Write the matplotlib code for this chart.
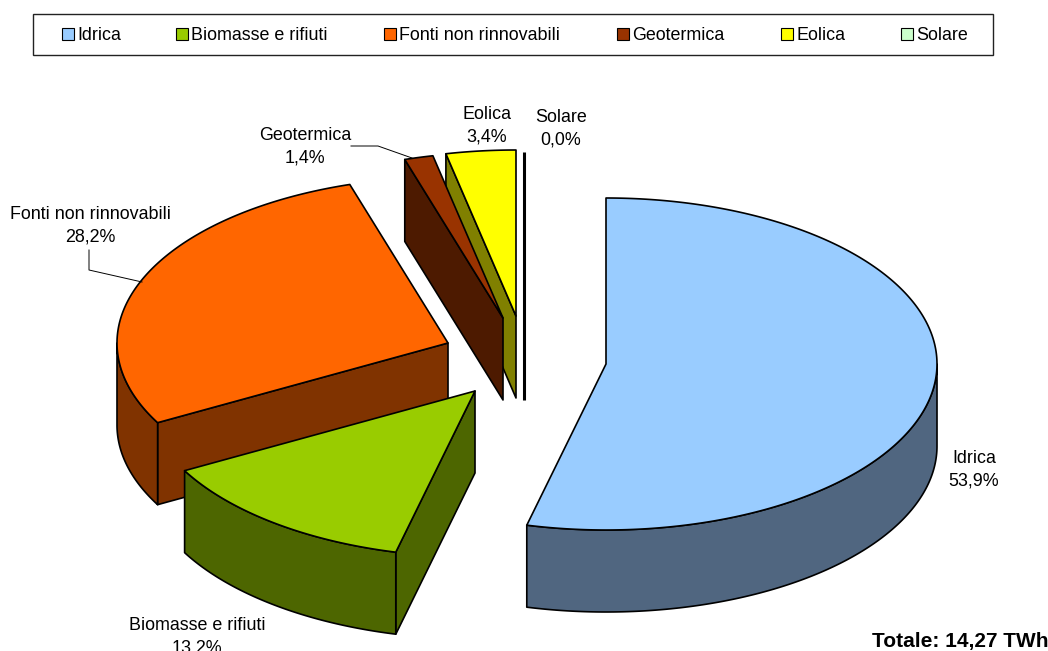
import numpy as np
import matplotlib
matplotlib.use("Agg")
import matplotlib.pyplot as plt
from matplotlib.patches import Rectangle

plt.rcParams["font.family"] = ["Liberation Sans", "DejaVu Sans"]

names = ["Idrica", "Biomasse e rifiuti", "Fonti non rinnovabili", "Geotermica", "Eolica", "Solare"]
shares = [53.9, 13.2, 28.2, 1.4, 3.4, 0.0]
total_label = "Totale: 14,27 TWh"

top_colors = ["#99CCFF", "#99CC00", "#FF6600", "#993300", "#FFFF00", "#CCFFCC"]
side_colors = ["#506680", "#4D6600", "#803300", "#4D1A00", "#808000", "#526652"]

# pie geometry, in pixels of the reference
RX, RY, DEPTH = 331, 166, 82
apex = {
    "Idrica": (606, 364),
    "Biomasse e rifiuti": (475, 391),
    "Fonti non rinnovabili": (448, 343),
    "Geotermica": (503, 318),
    "Eolica": (516, 316),
    "Solare": (524, 318),
}
# label centres and leader lines
label_pos = {
    "Idrica": (974, 470),
    "Biomasse e rifiuti": (197, 637),
    "Fonti non rinnovabili": (90, 226),
    "Geotermica": (305, 147),
    "Eolica": (487, 126),
    "Solare": (561, 129),
}
leaders = [
    ([89, 89, 142], [250, 270, 282]),
    ([351, 378, 412], [146, 146, 158]),
]
# legend swatch and text x positions
legend_x = [62, 176, 384, 617, 781, 901]


def rim(cx, cy, a, b, drop=0):
    # points of the ellipse from a to b, angles clockwise from the top
    t = np.radians(np.linspace(a, b, max(int(abs(b - a) * 2), 2)))
    return cx + RX * np.sin(t), cy - RY * np.cos(t) + drop


fig = plt.figure(figsize=(10.48, 6.51), dpi=100)
ax = fig.add_axes([0, 0, 1, 1])
ax.set_xlim(0, 1048)
ax.set_ylim(651, 0)
ax.axis("off")

edges = np.cumsum([0] + shares) * 3.6 / (sum(shares) / 100)

# back slices get the low zorder, so the nearer ones cover them
layer = {"Solare": 2, "Eolica": 2, "Geotermica": 3, "Fonti non rinnovabili": 4, "Biomasse e rifiuti": 5, "Idrica": 6}
for i, name in enumerate(names):
    a, b = edges[i], edges[i + 1]
    cx, cy = apex[name]
    z = layer[name]
    if shares[i] == 0:
        ax.plot([cx, cx], [cy - RY, cy + DEPTH], color="black", lw=2.2, solid_capstyle="butt", zorder=z)
        continue

    # cut face on the start edge, only when it turns towards the viewer
    if np.sin(np.radians(a)) < -1e-6:
        ex, ey = rim(cx, cy, a, a)
        ax.fill([cx, ex[0], ex[0], cx], [cy, ey[0], ey[0] + DEPTH, cy + DEPTH],
                facecolor=side_colors[i], edgecolor="black", lw=1.2, joinstyle="round", zorder=z)

    # outer wall on the front half of the ellipse
    w0, w1 = max(a, 90), min(b, 270)
    if w1 > w0:
        tx, ty = rim(cx, cy, w0, w1)
        bx, by = rim(cx, cy, w1, w0, DEPTH)
        ax.fill(np.r_[tx, bx], np.r_[ty, by], facecolor=side_colors[i], edgecolor="black",
                lw=1.2, joinstyle="round", zorder=z)

    # top face
    tx, ty = rim(cx, cy, a, b)
    ax.fill(np.r_[cx, tx], np.r_[cy, ty], facecolor=top_colors[i], edgecolor="black",
            lw=1.2, joinstyle="round", zorder=z)

for i, name in enumerate(names):
    x, y = label_pos[name]
    share = f"{shares[i]:.1f}".replace(".", ",") + "%"
    ax.text(x, y, f"{name}\n{share}", ha="center", va="center", fontsize=12.9,
            linespacing=1.4, color="black", zorder=10, clip_on=False)

for lx, ly in leaders:
    ax.plot(lx, ly, color="black", lw=0.7, zorder=9)

# legend
ax.add_patch(Rectangle((32.5, 13.5), 960, 41, facecolor="white", edgecolor="#222222", lw=1, zorder=1))
for i, name in enumerate(names):
    ax.add_patch(Rectangle((legend_x[i], 28), 12, 12, facecolor=top_colors[i], edgecolor="black", lw=0.8, zorder=2))
    ax.text(legend_x[i] + 15, 35, name, ha="left", va="center", fontsize=12.9, color="black", zorder=2)

ax.text(1048, 641, total_label, ha="right", va="center", fontsize=15, fontweight="bold", color="black")

fig.savefig("out.png", dpi=100)
